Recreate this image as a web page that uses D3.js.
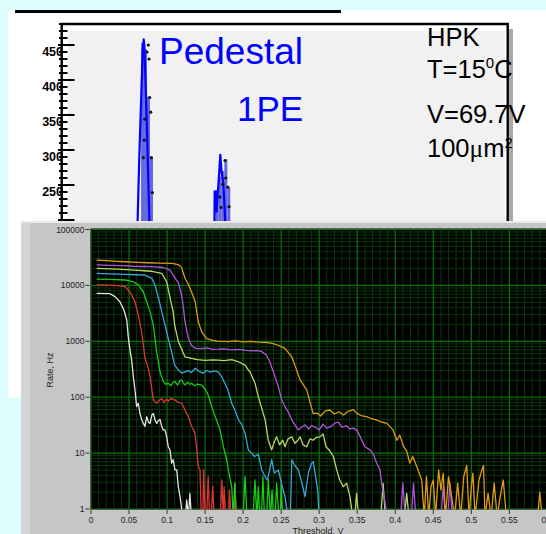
<!DOCTYPE html>
<html><head><meta charset="utf-8">
<script src="https://cdn.jsdelivr.net/npm/d3@7"></script>
<style>html,body{margin:0;padding:0;background:#dcfdfd;overflow:hidden}svg{display:block}</style>
</head><body><svg id="c" width="546" height="534"></svg>
<script>
// ---------- amplitude spectrum (ADC channel, counts) ----------
const pedestalBins = [[27, 453], [28, 444], [29, 376], [30, 290]];
const onePEBins = [[52, 240], [53, 262], [54, 270], [55, 287], [56, 247]];
const pedestalPoints = [[29.43,450],[29.0,440],[29.67,430],[29.9,375],[30.24,354],[28.22,344],[28.09,314],[27.75,289],[30.44,289],[30.78,239]];
const onePEPoints = [[55.23,285],[55.47,260],[56.14,247],[53.88,218],[56.58,219],[54.46,251],[53.55,233]];
const pedestalFit = [[25.6,150],[25.87,205],[26.4,290],[27.55,443],[27.88,458],[28.09,450],[28.66,376],[29.23,290],[29.77,205],[30.0,150]];
const onePEFit = [[51.6,150],[51.75,241],[52.2,241],[52.4,212],[53.65,293],[54.1,267],[54.66,253],[55.23,205],[55.5,150]];
const countTicks = [250, 300, 350, 400, 450];

// ---------- dark-count rate vs threshold (V, Hz); 0 = no counts ----------
const thresholdTicks = [0,0.05,0.1,0.15,0.2,0.25,0.3,0.35,0.4,0.45,0.5,0.55,0.6];
const thresholdLabels = ["0","0.05","0.1","0.15","0.2","0.25","0.3","0.35","0.4","0.45","0.5","0.55","0.6"];
const rateTicks = [1,10,100,1000,10000,100000];
const rateLabels = ["1","10","100","1000","10000","100000"];

const rateOrange = [[0.0075,28400],[0.02,27800],[0.035,27000],[0.045,26500],[0.06,25900],[0.075,25400],[0.09,25000],[0.106,24800],[0.115,23500],[0.119,21000],[0.1236,13400],[0.128,10500],[0.132,7700],[0.137,5100],[0.141,2240],[0.1455,1480],[0.152,1120],[0.16,1040],[0.167,1010],[0.18,990],[0.19,1020],[0.2,980],[0.21,1000],[0.22,970],[0.229,955],[0.237,930],[0.246,850],[0.255,745],[0.264,525],[0.268,375],[0.2748,205],[0.2836,135],[0.292,51],[0.297,52],[0.302,46],[0.308,57],[0.314,59],[0.32,50],[0.326,55],[0.332,48],[0.338,56],[0.345,60],[0.349,52],[0.355,47],[0.362,45],[0.368,42],[0.3756,39],[0.382,36],[0.389,34],[0.397,26],[0.402,17],[0.406,21],[0.411,13],[0.415,11],[0.419,6.6],[0.423,8.7],[0.43,5],[0.4348,3.3],[0.438,0],[0.441,3.8],[0.444,0],[0.447,2.5],[0.45,3.3],[0.453,0],[0.457,5],[0.46,2.2],[0.463,4.4],[0.466,0],[0.47,3.8],[0.474,1.7],[0.478,0],[0.482,2.9],[0.486,0],[0.49,3.8],[0.494,6],[0.497,0],[0.5,2.5],[0.502,4.4],[0.505,0],[0.51,3.3],[0.514,5],[0.516,6],[0.518,0],[0.522,1.9],[0.526,0],[0.53,2.9],[0.534,0],[0.538,1.7],[0.542,3.3],[0.546,0],[0.587,0],[0.59,2.0],[0.593,0]];
const rateViolet = [[0.0075,23200],[0.025,22800],[0.04,22500],[0.055,22000],[0.07,21800],[0.08,21600],[0.095,20900],[0.104,18800],[0.108,15300],[0.115,11000],[0.119,6800],[0.121,4500],[0.1236,2240],[0.128,1120],[0.132,850],[0.137,750],[0.145,740],[0.152,760],[0.16,720],[0.167,725],[0.175,735],[0.185,700],[0.195,720],[0.204,690],[0.211,675],[0.218,680],[0.224,660],[0.2305,570],[0.235,430],[0.2397,285],[0.2463,155],[0.2507,89],[0.255,68],[0.26,52],[0.264,39],[0.2725,26],[0.278,30],[0.2813,32],[0.286,27],[0.29,31],[0.295,29],[0.3,26],[0.305,33],[0.31,28],[0.316,30],[0.32,34],[0.325,36],[0.33,29],[0.336,31],[0.34,27],[0.345,28],[0.35,25],[0.354,19.5],[0.36,13],[0.367,11.4],[0.372,9],[0.3756,6.6],[0.38,5],[0.382,2.9],[0.386,1.5],[0.389,0],[0.407,0],[0.41,2.9],[0.413,0],[0.421,0],[0.424,2.9],[0.427,0],[0.46,0],[0.463,2.5],[0.466,0],[0.469,0],[0.472,2.9],[0.475,0]];
const rateYellow = [[0.0075,20200],[0.025,19800],[0.04,19300],[0.058,18800],[0.07,18300],[0.08,17900],[0.093,16400],[0.0995,11600],[0.104,5900],[0.108,3400],[0.11,1950],[0.115,980],[0.1236,525],[0.132,495],[0.14,470],[0.15,455],[0.16,465],[0.167,460],[0.175,450],[0.185,470],[0.194,430],[0.2025,375],[0.2068,307],[0.209,285],[0.2156,178],[0.22,102],[0.225,60],[0.229,39],[0.231,26],[0.233,17],[0.2375,11.4],[0.241,16],[0.244,19.5],[0.248,14],[0.252,17],[0.255,13],[0.259,18],[0.264,19.5],[0.268,15],[0.272,17],[0.2748,19.5],[0.279,14],[0.2836,13],[0.288,18],[0.292,17],[0.296,19],[0.301,19.5],[0.305,22],[0.309,13],[0.314,11],[0.3186,8.7],[0.323,5],[0.327,3.3],[0.3317,2.5],[0.336,2.9],[0.3405,1.66],[0.344,0],[0.347,0],[0.349,1.9],[0.352,0],[0.381,0],[0.384,2.9],[0.387,0],[0.412,0],[0.415,1.9],[0.418,0]];
const rateCyan = [[0.0075,16400],[0.025,16100],[0.0447,15800],[0.06,15500],[0.071,15300],[0.08,13400],[0.084,10200],[0.0887,5900],[0.093,3400],[0.0973,1950],[0.1016,1120],[0.106,645],[0.11,375],[0.115,305],[0.119,270],[0.1236,285],[0.128,300],[0.132,275],[0.137,330],[0.142,290],[0.147,270],[0.152,300],[0.157,280],[0.162,295],[0.167,285],[0.1718,233],[0.176,178],[0.18,135],[0.185,78],[0.19,55],[0.194,39],[0.198,33],[0.2025,23],[0.2068,11.4],[0.211,10],[0.215,8.7],[0.22,9.5],[0.2244,5],[0.2288,3.8],[0.232,3.3],[0.2375,7.6],[0.241,4.4],[0.2463,5],[0.25,3],[0.255,1.66],[0.259,0],[0.262,0],[0.264,7.6],[0.268,6],[0.2725,5],[0.277,3],[0.2813,1.66],[0.2857,4.4],[0.29,6.6],[0.2922,7],[0.295,4],[0.298,2.2],[0.3,0]];
const rateGreen = [[0.0075,13000],[0.025,12800],[0.0447,12500],[0.0556,11600],[0.0622,10200],[0.0688,7700],[0.0732,5100],[0.0776,3400],[0.082,1950],[0.0841,1120],[0.0863,645],[0.0885,430],[0.0907,285],[0.093,233],[0.095,190],[0.0985,170],[0.1016,178],[0.105,160],[0.108,185],[0.1104,190],[0.114,165],[0.117,200],[0.119,203],[0.122,175],[0.1236,165],[0.127,185],[0.13,170],[0.1324,178],[0.136,160],[0.14,172],[0.1455,165],[0.15,140],[0.154,110],[0.1587,68],[0.162,50],[0.165,39],[0.1696,26],[0.174,13],[0.1784,7.6],[0.1805,5],[0.185,2.5],[0.187,0],[0.189,2.9],[0.191,0],[0.2,0],[0.2025,3.8],[0.205,0],[0.213,0],[0.2156,3.3],[0.218,0],[0.22,2.5],[0.222,0],[0.224,0],[0.226,3.8],[0.228,0],[0.231,0],[0.233,3.3],[0.236,0],[0.238,2.2],[0.24,0],[0.242,0],[0.244,2.9],[0.247,0],[0.249,0],[0.25,2.9],[0.252,0]];
const rateRed = [[0.0075,10200],[0.02,10100],[0.0359,9900],[0.0447,9500],[0.049,8300],[0.0535,6700],[0.0578,5100],[0.0622,2950],[0.0666,1480],[0.0688,850],[0.071,500],[0.0753,330],[0.0776,233],[0.08,135],[0.082,89],[0.0863,78],[0.09,88],[0.093,95],[0.096,80],[0.099,92],[0.1016,85],[0.105,95],[0.1104,89],[0.114,82],[0.1193,78],[0.1236,59],[0.128,45],[0.1324,30],[0.1367,23],[0.139,11.4],[0.141,5.8],[0.1433,5],[0.145,0],[0.147,0],[0.148,5],[0.15,0],[0.152,0],[0.154,3.8],[0.156,0],[0.158,0],[0.16,2.5],[0.162,0],[0.17,0],[0.172,3.3],[0.174,0],[0.175,2.5],[0.177,0],[0.181,0],[0.182,2.2],[0.184,0],[0.188,0],[0.1893,2.9],[0.191,0]];
const rateWhite = [[0.0075,7200],[0.025,7100],[0.0316,6300],[0.038,5100],[0.0434,3600],[0.047,2400],[0.049,1200],[0.0513,690],[0.0535,460],[0.0556,233],[0.0578,135],[0.06,68],[0.0622,78],[0.0644,51],[0.0666,40],[0.0688,34],[0.071,30],[0.0732,45],[0.0755,36],[0.0776,34],[0.08,48],[0.082,51],[0.084,40],[0.0863,34],[0.0885,38],[0.0907,40],[0.093,30],[0.095,26],[0.0973,26],[0.0995,19.5],[0.1016,13],[0.1039,11.4],[0.106,6.6],[0.108,7.6],[0.1104,5],[0.1127,5],[0.1148,2.5],[0.117,1.66],[0.1193,1],[0.121,0],[0.124,0],[0.1258,1.45],[0.128,0],[0.13,1.9],[0.132,0]];

const rateSeries = [
  {values: rateWhite,  color: "#e4e4e4"},
  {values: rateRed,    color: "#e03434"},
  {values: rateGreen,  color: "#18cc18"},
  {values: rateCyan,   color: "#38a8e0"},
  {values: rateYellow, color: "#b8d862"},
  {values: rateViolet, color: "#b450e0"},
  {values: rateOrange, color: "#e09c10"}
];

const W = 546, H = 534;
const svg = d3.select("#c");
const defs = svg.append("defs");

// page backdrop
svg.append("rect").attr("width", W).attr("height", H).attr("fill", "#dcfdfd");
svg.append("rect").attr("x", 8).attr("y", 10).attr("width", W - 8).attr("height", 388).attr("fill", "#ffffff");
svg.append("line").attr("x1", 15).attr("x2", 341).attr("y1", 11.5).attr("y2", 11.5)
  .attr("stroke", "#000").attr("stroke-width", 3);

// ================= amplitude spectrum =================
const xU = d3.scaleLinear().domain([0, 150]).range([60.8, 506.8]);
const yU = d3.scaleLinear().domain([0, 480]).range([360, 24]);
const up = svg.append("g");

up.append("rect").attr("x", 509).attr("y", 29).attr("width", 4).attr("height", 200).attr("fill", "#a8a8a8");
up.append("rect").attr("x", 61.7).attr("y", 24).attr("width", 446).attr("height", 380).attr("fill", "#ffffff");
up.append("rect").attr("x", 68).attr("y", 31).attr("width", 437).attr("height", 370).attr("fill", "#f1f1f1");

defs.append("clipPath").attr("id", "clipU").append("rect")
  .attr("x", 62).attr("y", 25).attr("width", 445).attr("height", 380);
const plotU = up.append("g").attr("clip-path", "url(#clipU)");

const bins = pedestalBins.concat(onePEBins);
plotU.selectAll("rect.bin").data(bins).join("rect").attr("class", "bin")
  .attr("x", d => xU(d[0])).attr("width", d => xU(d[0] + 1) - xU(d[0]))
  .attr("y", d => yU(d[1])).attr("height", d => yU(0) - yU(d[1]))
  .attr("fill", "#5656dc").attr("fill-opacity", 0.9);

const lineU = d3.line().x(d => xU(d[0])).y(d => yU(d[1]));
[pedestalFit, onePEFit].forEach(f => {
  plotU.append("path").attr("d", lineU(f)).attr("fill", "none")
    .attr("stroke", "#0000ff").attr("stroke-width", 2.2).attr("stroke-linejoin", "round");
});
plotU.selectAll("circle.pt").data(pedestalPoints.concat(onePEPoints)).join("circle").attr("class", "pt")
  .attr("cx", d => xU(d[0])).attr("cy", d => yU(d[1])).attr("r", 1.6).attr("fill", "#151515");

// count axis
const minorCounts = d3.range(200, 481, 10);
up.selectAll("line.mt").data(minorCounts).join("line").attr("class", "mt")
  .attr("x1", 59).attr("x2", 67.5).attr("y1", d => yU(d)).attr("y2", d => yU(d))
  .attr("stroke", "#000").attr("stroke-width", 2);
up.selectAll("line.Mt").data([200].concat(countTicks)).join("line").attr("class", "Mt")
  .attr("x1", 58).attr("x2", 74.5).attr("y1", d => yU(d)).attr("y2", d => yU(d))
  .attr("stroke", "#000").attr("stroke-width", 2);
up.selectAll("text.cl").data(countTicks).join("text").attr("class", "cl")
  .attr("x", 63).attr("y", d => yU(d) + 10.5).attr("text-anchor", "end")
  .attr("font-family", "Liberation Sans, Arial, sans-serif").attr("font-weight", "bold")
  .attr("font-size", 12.5).attr("fill", "#000").text(d => d);

// annotations
const sans = "Liberation Sans, Arial, sans-serif";
up.append("text").attr("x", 159).attr("y", 63.5).attr("font-family", sans).attr("font-size", 37)
  .attr("fill", "#0000ff").text("Pedestal");
up.append("text").attr("x", 237).attr("y", 120.5).attr("font-family", sans).attr("font-size", 35)
  .attr("fill", "#0000ff").text("1PE");
up.append("text").attr("x", 427).attr("y", 45.5).attr("font-family", sans).attr("font-size", 25.5).text("HPK");
const tLine = up.append("text").attr("x", 427).attr("y", 77.5).attr("font-family", sans).attr("font-size", 25.5);
tLine.append("tspan").text("T=15");
tLine.append("tspan").attr("font-size", 15).attr("dy", -9.5).text("0");
tLine.append("tspan").attr("dy", 9.5).text("C");
up.append("text").attr("x", 427).attr("y", 123).attr("font-family", sans).attr("font-size", 25.5).text("V=69.7V");
const aLine = up.append("text").attr("x", 427).attr("y", 157).attr("font-family", sans).attr("font-size", 25.5);
aLine.append("tspan").text("100");
aLine.append("tspan").attr("font-family", "Liberation Serif, Times New Roman, serif").text("\u03bc");
aLine.append("tspan").text("m");
aLine.append("tspan").attr("font-size", 15).attr("dy", -9.5).text("2");

up.append("path").attr("d", "M61.7,405V24H507.7V405").attr("fill", "none")
  .attr("stroke", "#000").attr("stroke-width", 2.4);

// ================= rate vs threshold =================
const xL = d3.scaleLinear().domain([0, 0.6]).range([91, 547.4]);
const yL = d3.scaleLog().domain([1, 100000]).range([509, 229.5]);
const low = svg.append("g");

low.append("rect").attr("x", 21).attr("y", 221).attr("width", W - 21).attr("height", H - 221).attr("fill", "#c6c6c6");
low.append("rect").attr("x", 21).attr("y", 221).attr("width", W - 21).attr("height", 2).attr("fill", "#e8e8e8");
low.append("rect").attr("x", 21).attr("y", 223).attr("width", 9).attr("height", H - 223).attr("fill", "#d4d4d4");

low.append("rect").attr("x", 90.5).attr("y", 228.5).attr("width", W - 90.5).attr("height", 281).attr("fill", "#000");

defs.append("clipPath").attr("id", "clipL").append("rect")
  .attr("x", 90.5).attr("y", 228.5).attr("width", W - 90.5).attr("height", 281);
const plotL = low.append("g").attr("clip-path", "url(#clipL)");

const minorT = d3.range(0, 61).map(i => i / 100).filter(v => Math.round(v * 100) % 5 !== 0);
const minorR = [];
rateTicks.slice(0, -1).forEach(dec => { for (let k = 2; k <= 9; k++) minorR.push(dec * k); });

plotL.selectAll("line.gv").data(minorT).join("line").attr("class", "gv")
  .attr("x1", d => xL(d)).attr("x2", d => xL(d)).attr("y1", 228).attr("y2", 510)
  .attr("stroke", "#083808").attr("stroke-width", 1);
plotL.selectAll("line.gh").data(minorR).join("line").attr("class", "gh")
  .attr("x1", 90).attr("x2", W).attr("y1", d => yL(d)).attr("y2", d => yL(d))
  .attr("stroke", "#083808").attr("stroke-width", 1);
plotL.selectAll("line.GV").data(thresholdTicks).join("line").attr("class", "GV")
  .attr("x1", d => xL(d)).attr("x2", d => xL(d)).attr("y1", 228).attr("y2", 510)
  .attr("stroke", "#0b700b").attr("stroke-width", 1.2);
plotL.selectAll("line.GH").data(rateTicks).join("line").attr("class", "GH")
  .attr("x1", 90).attr("x2", W).attr("y1", d => yL(d)).attr("y2", d => yL(d))
  .attr("stroke", "#0b700b").attr("stroke-width", 1.2);

const yBottom = yL.range()[0] + 8;
const lineL = d3.line().x(d => xL(d[0])).y(d => d[1] > 0 ? yL(d[1]) : yBottom);
plotL.selectAll("path.rate").data(rateSeries).join("path").attr("class", "rate")
  .attr("d", d => lineL(d.values)).attr("fill", "none")
  .attr("stroke", d => d.color).attr("stroke-width", 1.3).attr("stroke-linejoin", "round");

// axes
const axisFont = "Liberation Sans, Arial, sans-serif";
low.selectAll("line.yt").data(rateTicks).join("line").attr("class", "yt")
  .attr("x1", 85.5).attr("x2", 89.5).attr("y1", d => yL(d)).attr("y2", d => yL(d))
  .attr("stroke", "#333").attr("stroke-width", 1);
low.selectAll("text.yl").data(rateTicks).join("text").attr("class", "yl")
  .attr("x", 84.5).attr("y", d => yL(d) + 3).attr("text-anchor", "end")
  .attr("font-family", axisFont).attr("font-size", 8.5).attr("fill", "#222")
  .text((d, i) => rateLabels[i]);
low.selectAll("line.xt").data(thresholdTicks).join("line").attr("class", "xt")
  .attr("x1", d => xL(d)).attr("x2", d => xL(d)).attr("y1", 510).attr("y2", 514)
  .attr("stroke", "#333").attr("stroke-width", 1);
low.selectAll("text.xl").data(thresholdTicks).join("text").attr("class", "xl")
  .attr("x", d => xL(d)).attr("y", 522.5).attr("text-anchor", "middle")
  .attr("font-family", axisFont).attr("font-size", 8.5).attr("fill", "#222")
  .text((d, i) => thresholdLabels[i]);
low.append("text").attr("transform", "translate(52.5,370) rotate(-90)").attr("text-anchor", "middle")
  .attr("font-family", axisFont).attr("font-size", 9).attr("fill", "#222").text("Rate, Hz");
low.append("text").attr("x", 318).attr("y", 533.5).attr("text-anchor", "middle")
  .attr("font-family", axisFont).attr("font-size", 9).attr("fill", "#222").text("Threshold, V");
</script></body></html>
